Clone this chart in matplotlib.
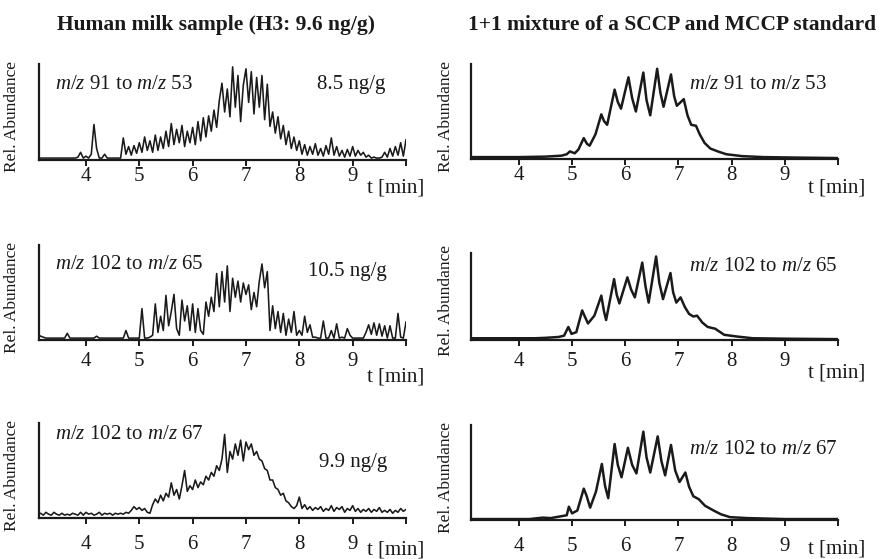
import numpy as np
import matplotlib
matplotlib.use("Agg")
import matplotlib.pyplot as plt

plt.rcParams['font.family'] = ['Liberation Serif', 'DejaVu Serif']
plt.rcParams['mathtext.fontset'] = 'custom'
plt.rcParams['mathtext.rm'] = 'Liberation Serif'
plt.rcParams['mathtext.it'] = 'Liberation Serif:italic'

# ---------------- data ----------------
# sampled retention-time grid for the human milk traces (min)
t_start = 3.10
t_step = 0.05

milk_91_53 = [
    .02, .02, .02, .02, .02, .02, .02, .02, .02, .02,
    .02, .02, .02, .02, .02, .03, .08, .02, .04, .02,
    .06, .37, .12, .02, .02, .06, .02, .02, .02, .02,
    .02, .02, .23, .06, .14, .05, .15, .07, .18, .08,
    .24, .10, .20, .08, .26, .10, .24, .12, .30, .14,
    .38, .16, .32, .18, .36, .14, .30, .18, .34, .16,
    .40, .20, .44, .24, .46, .30, .52, .34, .62, .80,
    .50, .74, .45, .97, .55, .88, .40, .78, .95, .60,
    .92, .48, .86, .55, .88, .42, .79, .35, .50, .28,
    .45, .22, .36, .16, .30, .12, .24, .10, .20, .06,
    .16, .05, .14, .06, .17, .05, .12, .04, .15, .06,
    .23, .05, .14, .04, .10, .03, .11, .04, .14, .04,
    .10, .05, .08, .03, .05, .02, .03, .02, .02, .03,
    .08, .03, .12, .04, .14, .05, .18, .04, .21]

milk_102_65 = [
    .06, .04, .03, .02, .02, .02, .02, .02, .02, .02,
    .02, .07, .02, .02, .02, .02, .02, .02, .02, .02,
    .02, .02, .04, .02, .02, .02, .02, .02, .02, .02,
    .02, .02, .02, .10, .02, .02, .02, .02, .02, .33,
    .02, .02, .03, .05, .38, .08, .25, .10, .47, .15,
    .30, .48, .12, .05, .42, .20, .36, .10, .38, .08,
    .33, .10, .06, .40, .25, .45, .30, .70, .35, .72,
    .40, .78, .30, .65, .45, .62, .40, .60, .48, .58,
    .32, .50, .35, .62, .80, .55, .72, .10, .36, .12,
    .30, .08, .28, .05, .22, .08, .30, .05, .10, .05,
    .25, .08, .16, .03, .03, .02, .02, .20, .02, .02,
    .10, .02, .17, .02, .03, .02, .12, .05, .02, .02,
    .02, .02, .02, .08, .16, .06, .18, .05, .17, .04,
    .15, .02, .15, .02, .02, .28, .03, .02, .19]

milk_102_67 = [
    .04, .05, .03, .06, .04, .03, .06, .04, .03, .05,
    .03, .04, .03, .05, .04, .03, .06, .03, .06, .04,
    .05, .03, .04, .06, .03, .05, .04, .05, .03, .05,
    .04, .05, .04, .06, .05, .08, .12, .09, .11, .08,
    .10, .06, .05, .14, .20, .16, .24, .18, .26, .22,
    .37, .24, .30, .20, .34, .50, .28, .34, .30, .40,
    .32, .38, .35, .44, .40, .48, .44, .55, .50, .62,
    .88, .48, .70, .62, .78, .66, .82, .60, .80, .72,
    .78, .66, .70, .62, .60, .52, .50, .40, .40, .32,
    .30, .24, .26, .18, .16, .12, .10, .13, .22, .10,
    .14, .09, .12, .08, .11, .09, .12, .07, .10, .08,
    .13, .07, .11, .09, .12, .06, .10, .08, .13, .07,
    .10, .06, .09, .07, .10, .06, .09, .07, .11, .06,
    .08, .06, .09, .05, .08, .06, .10, .07, .09]

# standard mixture traces: time / abundance pairs
std_91_53_t = [3.10, 4.00, 4.50, 4.80, 4.90, 4.96, 5.05, 5.12, 5.22, 5.28, 5.33, 5.44,
               5.55, 5.60, 5.66, 5.80, 5.86, 5.92, 6.06, 6.13, 6.20, 6.34, 6.40, 6.47,
               6.60, 6.66, 6.72, 6.86, 6.92, 6.97, 7.10, 7.17, 7.24, 7.33, 7.40, 7.49,
               7.60, 7.74, 7.90, 8.20, 8.60, 9.20, 10.00]
std_91_53_y = [0.02, 0.02, 0.025, 0.035, 0.05, 0.08, 0.06, 0.10, 0.22, 0.16, 0.14, 0.26,
               0.47, 0.40, 0.36, 0.73, 0.60, 0.53, 0.86, 0.64, 0.50, 0.91, 0.62, 0.46,
               0.95, 0.70, 0.55, 0.89, 0.66, 0.56, 0.63, 0.46, 0.36, 0.35, 0.26, 0.17,
               0.11, 0.08, 0.05, 0.03, 0.02, 0.015, 0.01]

std_102_65_t = [3.10, 4.30, 4.50, 4.75, 4.85, 4.93, 4.99, 5.08, 5.19, 5.24, 5.30, 5.42,
                5.55, 5.60, 5.64, 5.79, 5.84, 5.89, 6.04, 6.11, 6.18, 6.32, 6.38, 6.44,
                6.58, 6.64, 6.71, 6.85, 6.90, 6.96, 7.04, 7.12, 7.20, 7.28, 7.35, 7.45,
                7.55, 7.69, 7.86, 8.10, 8.40, 9.00, 10.00]
std_102_65_y = [0.02, 0.02, 0.025, 0.035, 0.05, 0.15, 0.07, 0.09, 0.34, 0.27, 0.19, 0.28,
                0.51, 0.33, 0.23, 0.70, 0.52, 0.42, 0.72, 0.58, 0.49, 0.89, 0.62, 0.43,
                0.96, 0.66, 0.47, 0.77, 0.55, 0.43, 0.49, 0.38, 0.30, 0.27, 0.28, 0.20,
                0.15, 0.13, 0.06, 0.04, 0.02, 0.015, 0.01]

std_102_67_t = [3.10, 4.20, 4.45, 4.60, 4.80, 4.90, 4.94, 5.00, 5.10, 5.22, 5.27, 5.34,
                5.45, 5.56, 5.62, 5.68, 5.80, 5.86, 5.93, 6.05, 6.13, 6.21, 6.34, 6.40,
                6.47, 6.61, 6.68, 6.75, 6.86, 6.94, 7.02, 7.13, 7.20, 7.28, 7.38, 7.50,
                7.66, 7.80, 7.97, 8.30, 9.00, 10.00]
std_102_67_y = [0.01, 0.01, 0.025, 0.02, 0.04, 0.05, 0.14, 0.07, 0.10, 0.33, 0.26, 0.13,
                0.30, 0.59, 0.36, 0.23, 0.80, 0.58, 0.45, 0.76, 0.58, 0.49, 0.93, 0.66,
                0.50, 0.88, 0.62, 0.47, 0.79, 0.52, 0.40, 0.50, 0.35, 0.25, 0.22, 0.15,
                0.10, 0.06, 0.03, 0.02, 0.01, 0.01]

xtick_values = [4, 5, 6, 7, 8, 9, 10]
xtick_labels = ['4', '5', '6', '7', '8', '9', '']

col_titles = ['Human milk sample (H3: 9.6 ng/g)', '1+1 mixture of a SCCP and MCCP standard']
trace_labels = [r'$m/z$ 91 to $m/z$ 53', r'$m/z$ 102 to $m/z$ 65', r'$m/z$ 102 to $m/z$ 67']
conc_labels = ['8.5 ng/g', '10.5 ng/g', '9.9 ng/g']

# ---------------- figure ----------------
W, H = 883, 559
fig = plt.figure(figsize=(W / 100, H / 100), dpi=100)
ink = '#1a1a1a'

def px_axes(x0, top, x1, bottom):
    return fig.add_axes([x0 / W, 1 - bottom / H, (x1 - x0) / W, (bottom - top) / H])

left_boxes = [(39, 64, 406, 160), (39, 245, 406, 340), (39, 423, 406, 518)]
right_boxes = [(471, 64, 838, 159), (471, 253, 838, 340), (471, 425, 838, 520)]
tick_pads = [1.0, 4.5, 8.5]
tmin_y_left = [-0.29, -0.39, -0.34]
tmin_y_right = [-0.30, -0.38, -0.31]

t_milk = t_start + t_step * np.arange(len(milk_91_53))
milk_series = [milk_91_53, milk_102_65, milk_102_67]
std_series = [(std_91_53_t, std_91_53_y), (std_102_65_t, std_102_65_y),
              (std_102_67_t, std_102_67_y)]

def style(ax, xmin, pad):
    ax.set_xlim(xmin, 10.0)
    ax.set_ylim(0, 1.0)
    for s in ('top', 'right'):
        ax.spines[s].set_visible(False)
    for s in ('left', 'bottom'):
        ax.spines[s].set_linewidth(1.6)
        ax.spines[s].set_color(ink)
    ax.set_yticks([])
    ax.set_xticks(xtick_values)
    ax.set_xticklabels(xtick_labels)
    ax.tick_params(axis='x', direction='out', length=4, width=1.4, color=ink,
                   labelsize=15, labelcolor=ink, pad=pad)
    ax.set_ylabel('Rel. Abundance', fontsize=12.5, color=ink)

for r in range(3):
    # left column: human milk
    ax = px_axes(*left_boxes[r])
    ax.plot(t_milk, milk_series[r], color=ink, lw=1.15)
    style(ax, 3.12, tick_pads[r])
    ax.yaxis.set_label_coords(-0.053, 0.45)
    ax.text(0.044, [0.79, 0.79, 0.88][r], trace_labels[r], transform=ax.transAxes,
            fontsize=15, ha='left', va='center', color=ink)
    ax.text([0.943, 0.948, 0.95][r], [0.79, 0.72, 0.58][r], conc_labels[r],
            transform=ax.transAxes, fontsize=15, ha='right', va='center', color=ink)
    ax.text(0.894, tmin_y_left[r], 't [min]', transform=ax.transAxes, fontsize=15,
            ha='left', va='center', color=ink)

    # right column: standard mixture
    ax = px_axes(*right_boxes[r])
    ts, ys = std_series[r]
    ax.plot(ts, ys, color=ink, lw=1.8)
    style(ax, 3.10, tick_pads[r])
    ax.yaxis.set_label_coords(-0.046, 0.45)
    ax.text(0.594, [0.78, 0.85, 0.74][r], trace_labels[r], transform=ax.transAxes,
            fontsize=15, ha='left', va='center', color=ink)
    ax.text(0.918, tmin_y_right[r], 't [min]', transform=ax.transAxes, fontsize=15,
            ha='left', va='center', color=ink)

fig.text(216 / W, 1 - 25 / H, col_titles[0], fontsize=15.5, fontweight='bold',
         ha='center', va='center', color=ink)
fig.text(672 / W, 1 - 25 / H, col_titles[1], fontsize=15.5, fontweight='bold',
         ha='center', va='center', color=ink)

fig.savefig('out.png', dpi=100, facecolor='white')
